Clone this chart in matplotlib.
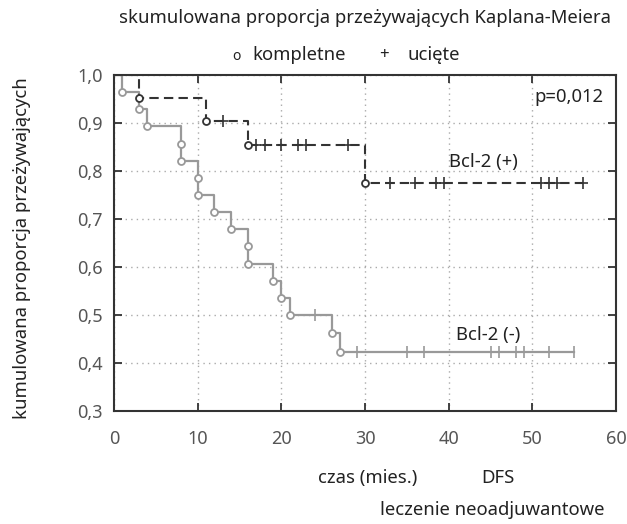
import matplotlib
matplotlib.use("Agg")
import matplotlib.pyplot as plt
import numpy as np

plt.rcParams['font.family'] = ['Noto Sans', 'DejaVu Sans']

# Bcl-2 (-) : event times and survival after each event
neg_event_t = [1, 3, 4, 8, 8, 10, 10, 12, 14, 16, 16, 19, 20, 21, 26, 27]
neg_event_s = [0.964, 0.929, 0.893, 0.857, 0.821, 0.786, 0.750, 0.714, 0.679,
               0.643, 0.607, 0.571, 0.536, 0.500, 0.462, 0.423]
neg_cens_t = [24, 29, 35, 37, 45, 46, 48, 49, 52, 55]
neg_end = 55

# Bcl-2 (+)
pos_event_t = [3, 11, 16, 30]
pos_event_s = [0.952, 0.905, 0.855, 0.774]
pos_cens_t = [13, 17, 18, 20, 22, 23, 28, 33, 36, 38.5, 39.5, 51, 52, 53, 56]
pos_end = 56

xticks = [0, 10, 20, 30, 40, 50, 60]
yticks = [0.3, 0.4, 0.5, 0.6, 0.7, 0.8, 0.9, 1.0]


def step_xy(ev_t, ev_s, end):
    xs, ys = [0], [1.0]
    for t, s in zip(ev_t, ev_s):
        xs += [t, t]
        ys += [ys[-1], s]
    xs.append(end)
    ys.append(ys[-1])
    return xs, ys


def level_at(ev_t, ev_s, t):
    s = 1.0
    for et, es in zip(ev_t, ev_s):
        if et <= t:
            s = es
    return s


fig = plt.figure(figsize=(6.27, 5.24), dpi=100)
ax = fig.add_axes([114 / 627, 1 - 411 / 524, (616 - 114) / 627, (411 - 75) / 524])

gray = '#999999'
dark = '#333333'
fs = 13.3

xs, ys = step_xy(neg_event_t, neg_event_s, neg_end)
ax.plot(xs, ys, color=gray, lw=1.6, zorder=3)
ax.plot(neg_event_t, neg_event_s, 'o', ms=5, mfc='white', mec=gray, mew=1.3, zorder=4)
ax.plot(neg_cens_t, [level_at(neg_event_t, neg_event_s, t) for t in neg_cens_t],
        '|', ms=8, mec=gray, mew=1.2, zorder=4)

xs, ys = step_xy(pos_event_t, pos_event_s, pos_end)
ax.plot(xs, ys, color=dark, lw=1.5, ls=(0, (4.5, 2.5)), zorder=3)
ax.plot(pos_event_t, pos_event_s, 'o', ms=5, mfc='white', mec=dark, mew=1.3, zorder=4)
ax.plot(pos_cens_t, [level_at(pos_event_t, pos_event_s, t) for t in pos_cens_t],
        '|', ms=8, mec=dark, mew=1.2, zorder=4)
ax.plot(pos_cens_t, [level_at(pos_event_t, pos_event_s, t) for t in pos_cens_t],
        '_', ms=7, mec=dark, mew=1.2, zorder=4)

ax.set_xlim(0, 60)
ax.set_ylim(0.3, 1.0)
ax.set_xticks(xticks)
ax.set_yticks(yticks)
ax.set_xticklabels([str(v) for v in xticks])
ax.set_yticklabels([f"{v:.1f}".replace('.', ',') for v in yticks])
ax.tick_params(direction='in', length=6, width=1.3, colors='#333333',
               top=True, right=True, labelcolor='#555555', labelsize=13, pad=8)
ax.tick_params(axis='x', pad=14)
ax.grid(True, ls=(0, (1, 3)), color='#aaaaaa', lw=1)
for sp in ax.spines.values():
    sp.set_color('#333333')
    sp.set_linewidth(1.5)

txt = '#222222'
ax.text(54.4, 0.955, 'p=0,012', fontsize=fs, color=txt, ha='center', va='center')
ax.text(44.2, 0.818, 'Bcl-2 (+)', fontsize=fs, color=txt, ha='center', va='center')
ax.text(44.7, 0.459, 'Bcl-2 (-)', fontsize=fs, color=txt, ha='center', va='center')

fig.text(365 / 627, 1 - 18 / 524, 'skumulowana proporcja przeżywających Kaplana-Meiera',
         fontsize=fs, color=txt, ha='center', va='center')
fig.text(236 / 627, 1 - 56 / 524, 'o', fontsize=10, color=txt, ha='center', va='center',
         fontweight='bold')
fig.text(252 / 627, 1 - 55 / 524, 'kompletne', fontsize=fs, color=txt, ha='left', va='center')
fig.text(384 / 627, 1 - 55 / 524, '+', fontsize=12, color=txt, ha='center', va='center')
fig.text(408 / 627, 1 - 55 / 524, 'ucięte', fontsize=fs, color=txt, ha='left', va='center')
fig.text(368 / 627, 1 - 478 / 524, 'czas (mies.)', fontsize=fs, color=txt, ha='center', va='center')
fig.text(498 / 627, 1 - 478 / 524, 'DFS', fontsize=fs, color=txt, ha='center', va='center')
fig.text(492 / 627, 1 - 510 / 524, 'leczenie neoadjuwantowe', fontsize=fs, color=txt,
         ha='center', va='center')
fig.text(22 / 627, 1 - 248 / 524, 'kumulowana proporcja przeżywających', fontsize=fs,
         color=txt, ha='center', va='center', rotation=90)

fig.savefig('out.png', dpi=100)
